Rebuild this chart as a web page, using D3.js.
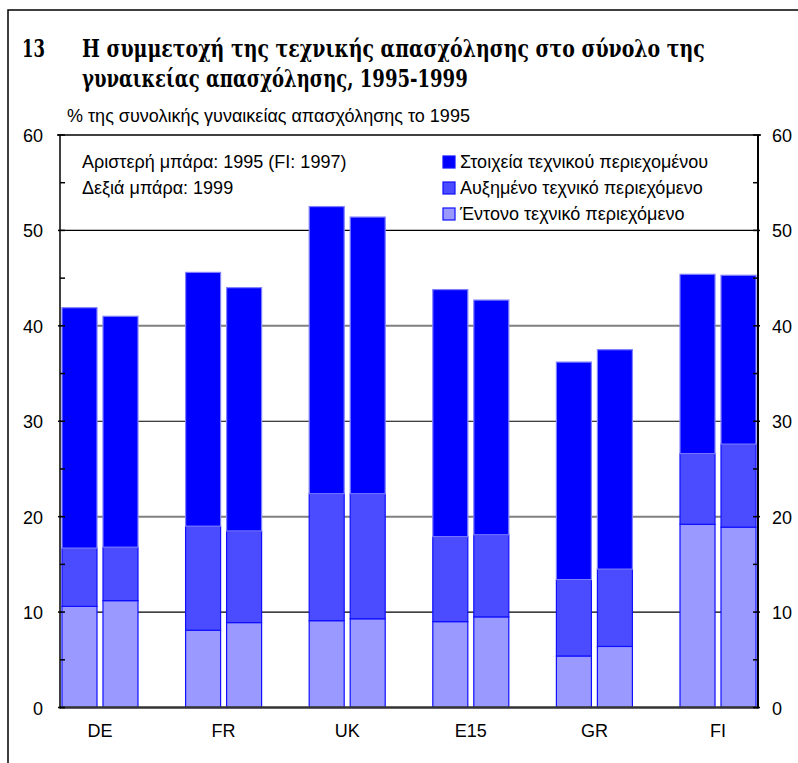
<!DOCTYPE html>
<html>
<head>
<meta charset="utf-8">
<script src="https://cdn.jsdelivr.net/npm/d3@7"></script>
<style>
  body { margin: 0; background: #fff; }
  text { font-family: "Liberation Sans", Arial, sans-serif; fill: #000; font-size: 18px; }
  text.title { font-family: "DejaVu Serif", "Liberation Serif", serif; font-weight: bold; font-size: 24px; }
</style>
</head>
<body>
<svg id="chart" width="798" height="763"></svg>
<script>
// data
let countries = ["DE", "FR", "UK", "E15", "GR", "FI"];
let years = ["left", "right"];
let seriesNames = ["Έντονο τεχνικό περιεχόμενο", "Αυξημένο τεχνικό περιεχόμενο", "Στοιχεία τεχνικού περιεχομένου"];
// cumulative tops: light, light+medium, total
let highTech = [[10.6, 11.2], [8.1, 8.9], [9.1, 9.3], [9.0, 9.5], [5.4, 6.4], [19.2, 18.9]];
let mediumTop = [[16.7, 16.8], [19.0, 18.5], [22.4, 22.4], [17.9, 18.1], [13.4, 14.5], [26.6, 27.6]];
let totalTop = [[41.9, 41.0], [45.6, 44.0], [52.5, 51.4], [43.8, 42.7], [36.2, 37.5], [45.4, 45.3]];
let yTicks = [0, 10, 20, 30, 40, 50, 60];
let colors = ["#9999ff", "#4b4bff", "#0000ff"];

let svg = d3.select("#chart");
let margin = { left: 60, right: 40, top: 135, bottom: 55 };
let W = 798, H = 763;

let x = d3.scaleBand()
    .domain(countries)
    .range([margin.left, W - margin.right])
    .paddingInner(0.385)
    .paddingOuter(0.016);
let xSub = d3.scaleBand()
    .domain(years)
    .range([0, x.bandwidth()])
    .paddingInner(0.146);
let y = d3.scaleLinear()
    .domain([0, 60])
    .range([H - margin.bottom - 0.5, margin.top]);

// outer frame
svg.append("path")
    .attr("d", "M8,763 V10 H798")
    .attr("fill", "none")
    .attr("stroke", "#000")
    .attr("stroke-width", 1.5);

// title: squeeze each line horizontally to the width it has in the original
function titleLine(txt, tx, ty, width) {
    let t = svg.append("text").attr("class", "title").text(txt);
    let natural = t.node().getComputedTextLength();
    t.attr("transform", "translate(" + tx + "," + ty + ") scale(" + (width / natural) + ",1)");
}
titleLine("13", 22, 57, 23);
titleLine("Η συμμετοχή της τεχνικής απασχόλησης στο σύνολο της", 82, 57, 623);
titleLine("γυναικείας απασχόλησης, 1995-1999", 82, 87, 386);

svg.append("text")
    .attr("x", 67).attr("y", 122)
    .text("% της συνολικής γυναικείας απασχόλησης το 1995");

// gridlines
svg.append("g").selectAll("line")
    .data(yTicks.filter(d => d > 0 && d < 60))
    .enter().append("line")
    .attr("x1", margin.left).attr("x2", W - margin.right)
    .attr("y1", d => y(d)).attr("y2", d => y(d))
    .attr("stroke", d => (d / 10) % 2 === 0 ? "#808080" : "#000")
    .attr("stroke-width", d => (d / 10) % 2 === 0 ? 2 : 1.2);

// bars
let stacks = [];
countries.forEach(function(c, i) {
    years.forEach(function(yr, j) {
        let tops = [highTech[i][j], mediumTop[i][j], totalTop[i][j]];
        tops.forEach(function(t, k) {
            stacks.push({ country: c, year: yr, k: k, y0: k === 0 ? 0 : tops[k - 1], y1: t });
        });
    });
});

svg.append("g").selectAll("rect")
    .data(stacks)
    .enter().append("rect")
    .attr("x", d => x(d.country) + xSub(d.year))
    .attr("width", xSub.bandwidth())
    .attr("y", d => y(d.y1))
    .attr("height", d => y(d.y0) - y(d.y1))
    .attr("fill", d => colors[d.k])
    .attr("stroke", d => d.k === 2 ? "#8080ff" : "#1010ff")
    .attr("stroke-width", 1.2);

// axes frame
svg.append("line")
    .attr("x1", margin.left - 3).attr("x2", W - margin.right + 3)
    .attr("y1", y(60)).attr("y2", y(60))
    .attr("stroke", "#000").attr("stroke-width", 1.5);
svg.append("line")
    .attr("x1", margin.left).attr("x2", W - margin.right)
    .attr("y1", y(0)).attr("y2", y(0))
    .attr("stroke", "#333").attr("stroke-width", 2.5);
svg.append("line")
    .attr("x1", margin.left).attr("x2", margin.left)
    .attr("y1", y(60)).attr("y2", y(0) + 1)
    .attr("stroke", "#000").attr("stroke-width", 1.5);
svg.append("line")
    .attr("x1", W - margin.right).attr("x2", W - margin.right)
    .attr("y1", y(60)).attr("y2", y(0) + 1)
    .attr("stroke", "#000").attr("stroke-width", 2);

// tick marks
let tickVals = d3.range(0, 61, 5);
svg.append("g").selectAll("line")
    .data(tickVals)
    .enter().append("line")
    .attr("x1", d => d % 10 === 0 ? margin.left - 2 : margin.left)
    .attr("x2", margin.left + 5)
    .attr("y1", d => y(d)).attr("y2", d => y(d))
    .attr("stroke", "#000").attr("stroke-width", 1.5);
svg.append("g").selectAll("line")
    .data(tickVals)
    .enter().append("line")
    .attr("x1", W - margin.right - 5)
    .attr("x2", d => d % 10 === 0 ? W - margin.right + 2 : W - margin.right)
    .attr("y1", d => y(d)).attr("y2", d => y(d))
    .attr("stroke", "#000").attr("stroke-width", 1.5);

// axis labels
svg.append("g").selectAll("text")
    .data(yTicks)
    .enter().append("text")
    .attr("x", 43).attr("y", d => y(d) + 7)
    .attr("text-anchor", "end")
    .text(d => d);
svg.append("g").selectAll("text")
    .data(yTicks)
    .enter().append("text")
    .attr("x", 772).attr("y", d => y(d) + 7)
    .text(d => d);
svg.append("g").selectAll("text")
    .data(countries)
    .enter().append("text")
    .attr("x", d => x(d) + x.bandwidth() / 2)
    .attr("y", 737)
    .attr("text-anchor", "middle")
    .text(d => d);

// notes
let notes = ["Αριστερή μπάρα: 1995 (FI: 1997)", "Δεξιά μπάρα: 1999"];
svg.append("g").selectAll("text")
    .data(notes)
    .enter().append("text")
    .attr("x", 82)
    .attr("y", (d, i) => 168 + i * 26)
    .text(d => d);

// legend
let legendItems = seriesNames.slice().reverse();
let legendColors = colors.slice().reverse();
let legend = svg.append("g").attr("transform", "translate(443,168)");
legend.selectAll("rect")
    .data(legendItems)
    .enter().append("rect")
    .attr("x", 0).attr("y", (d, i) => i * 26 - 12)
    .attr("width", 12).attr("height", 12)
    .attr("fill", (d, i) => legendColors[i])
    .attr("stroke", "#1010ff").attr("stroke-width", 1.2);
legend.selectAll("text")
    .data(legendItems)
    .enter().append("text")
    .attr("x", 17).attr("y", (d, i) => i * 26)
    .text(d => d);
</script>
</body>
</html>
